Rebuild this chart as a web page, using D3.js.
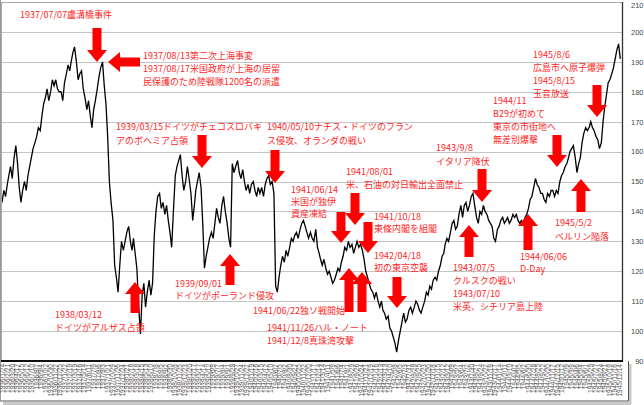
<!DOCTYPE html>
<html>
<head>
<meta charset="utf-8">
<script src="https://cdn.jsdelivr.net/npm/d3@7"></script>
<style>
body{margin:0;background:#fff;}
svg{display:block;font-family:"Noto Sans CJK JP","Noto Sans",sans-serif;}
</style>
</head>
<body>
<div id="chart"></div>
<script>
// index values, 3 readings a month (1st, 11th, 21st)
var v1936 = [144,145,143,147,145,149,152,155,151,158,162,156,148,143,147,150,147,152,155,158,161,163,165,168,167,172,176,178,181,177,180,184,182,184,181,180];
var v1937 = [180,177,183,186,189,187,190,193,195,190,184,186,187,181,178,174,177,172,168,174,177,181,185,188,190,182,176,165,150,143,137,122,118,113,122,130];
var v1938 = [127,130,133,135,130,127,131,126,121,108,99,112,116,108,113,117,112,116,132,140,145,146,141,143,139,142,137,133,128,140,152,155,157,159,152,147];
var v1939 = [150,155,151,146,137,142,147,150,153,148,136,121,125,128,131,133,131,136,141,138,136,142,145,140,136,131,128,156,153,155,157,153,151,154,150,147];
var v1940 = [149,146,149,150,147,145,148,146,148,145,149,151,152,149,150,146,115,113,118,122,125,123,127,125,128,131,130,132,133,131,134,136,137,135,133,131];
var v1941 = [133,131,130,134,128,126,124,122,124,121,119,120,118,116,117,119,121,120,123,125,128,127,130,128,129,126,128,130,128,129,127,124,120,118,116,114];
var v1942 = [113,111,113,110,108,110,107,106,104,105,101,100,98,96,93,97,100,103,106,103,104,107,108,106,108,110,109,107,106,108,110,113,112,115,114,117];
var v1943 = [118,117,120,122,125,126,129,131,130,133,136,137,134,135,139,142,138,142,143,140,142,145,146,142,138,136,140,139,142,140,139,137,136,135,131,130];
var v1944 = [134,135,137,138,136,137,138,136,137,139,138,139,137,136,137,136,138,139,141,144,145,148,151,149,148,146,146,144,143,146,145,147,147,145,147,146];
var v1945 = [150,152,153,155,156,158,160,161,162,158,153,156,158,163,166,168,167,168,170,168,167,165,164,161,163,170,175,179,183,184,186,188,191,194,196,191];

var years = [1936,1937,1938,1939,1940,1941,1942,1943,1944,1945];
var yearValues = [v1936,v1937,v1938,v1939,v1940,v1941,v1942,v1943,v1944,v1945];
var slotDays = [1,11,21];

var yTicks = [90,100,110,120,130,140,150,160,170,180,190,200,210];

var notes = [
  ["1937/07/07盧溝橋事件"],
  ["1937/08/13第二次上海事変","1937/08/17米国政府が上海の居留","民保護のため陸戦隊1200名の派遣"],
  ["1939/03/15ドイツがチェコスロバキ","アのボヘミア占領"],
  ["1940/05/10ナチス・ドイツのフラン","ス侵攻、オランダの戦い"],
  ["1941/06/14","米国が独伊","資産凍結"],
  ["1941/08/01","米、石油の対日輸出全面禁止"],
  ["1941/10/18","東條内閣を組閣"],
  ["1942/04/18","初の東京空襲"],
  ["1941/06/22独ソ戦開始"],
  ["1941/11/26ハル・ノート"],
  ["1941/12/8真珠湾攻撃"],
  ["1938/03/12","ドイツがアルザス占領"],
  ["1939/09/01","ドイツがポーランド侵攻"],
  ["1943/9/8","イタリア降伏"],
  ["1943/07/5","クルスクの戦い","1943/07/10","米英、シチリア島上陸"],
  ["1944/06/06","D-Day"],
  ["1945/5/2","ベルリン陥落"],
  ["1944/11","B29が初めて","東京の市街地へ","無差別爆撃"],
  ["1945/8/6","広島市へ原子爆弾","1945/8/15","玉音放送"]
];
// x, y of first line, line step
var notePos = [
  [20,15,13],[143,56,12.8],[116,127,14],[267,127,14],[291,190,12],[346,172,12.5],
  [374,217,12],[374,256,11.5],[253,311,13],[267,328,13],[267,341,13],[55,315,13],
  [175,284,12],[436,148,14],[453,268,13],[520,257,12],[555,223,14],[493,101,13],[533,55,13]
];
// tailX, tailY, tipX, tipY
var arrows = [
  [97,28,97,62],[140,62,108,62],[202,135,202,168],[275,150,275,183],
  [341,212,341,243],[355,193,355,225],[368,222,368,253],[397,277,397,308],
  [349,312,349,268],[362,312,362,272],[135,313,135,282],[230,285,230,254],
  [482,169,482,202],[469,257,469,225],[528,250,528,214],[581,212,581,179],
  [557,135,557,167],[597,85,597,117]
];

var data = [];
years.forEach(function(yr, i){
  yearValues[i].forEach(function(v, k){
    data.push({date: new Date(yr, Math.floor(k/3), slotDays[k%3]), value: v});
  });
});

var width = 644, height = 405;
var svg = d3.select("#chart").append("svg")
  .attr("width", width).attr("height", height);

var x = d3.scaleTime()
  .domain([new Date(1936,0,21), new Date(1945,11,31)])
  .range([2, 622]);
var y = d3.scaleLinear().domain([90,210]).range([361, 2]);

// frame + shadow
svg.append("rect").attr("x",3).attr("y",402).attr("width",628).attr("height",3).attr("fill","#c8c8c8");
svg.append("rect").attr("x",629).attr("y",364).attr("width",2.5).attr("height",40).attr("fill","#c8c8c8");
svg.append("line").attr("x1",0).attr("x2",628.5).attr("y1",401).attr("y2",401).attr("stroke","#555");
svg.append("line").attr("x1",628.5).attr("x2",628.5).attr("y1",361).attr("y2",401).attr("stroke","#555");
svg.append("line").attr("x1",0.5).attr("x2",0.5).attr("y1",0).attr("y2",401).attr("stroke","#999");

// grid
svg.append("g").selectAll("line")
  .data(yTicks.filter(function(d){ return d > 90; }))
  .enter().append("line")
  .attr("x1", 2).attr("x2", 622)
  .attr("y1", function(d){ return Math.round(y(d)) + 0.5; })
  .attr("y2", function(d){ return Math.round(y(d)) + 0.5; })
  .attr("stroke", function(d){ return d == 210 ? "#aaa" : "#c4c4c4"; })
  .attr("stroke-width", 1);
svg.append("line").attr("x1",1.5).attr("x2",1.5).attr("y1",2).attr("y2",361).attr("stroke","#aaa");
svg.append("line").attr("x1",622.5).attr("x2",622.5).attr("y1",2).attr("y2",361).attr("stroke","#333").attr("stroke-width",1.3);

// y axis labels
var yAxis = svg.append("g")
  .attr("transform","translate(622,0)")
  .call(d3.axisRight(y).tickValues(yTicks).tickSize(0));
yAxis.select(".domain").remove();
yAxis.selectAll("text")
  .attr("x", 21.5).attr("text-anchor","end")
  .attr("y", function(d){ return d == 210 ? 3 : 0; })
  .style("font-size","7.5px").attr("fill","#444")
  .style("font-family","Arial, 'Liberation Sans', sans-serif");

// x axis labels every 4 weeks
var start = new Date(1936,0,24);
var tickDates = d3.range(0, 130).map(function(i){ return d3.timeDay.offset(start, 28*i); })
  .filter(function(d){ return d <= new Date(1945,11,31); });
var fmt = d3.timeFormat("%Y/%-m/%-d");
var xAxis = svg.append("g")
  .attr("transform","translate(0,362)")
  .call(d3.axisBottom(x).tickValues(tickDates).tickFormat(fmt).tickSize(0).tickPadding(0));
xAxis.select(".domain").remove();
xAxis.selectAll("text")
  .attr("transform","rotate(-90)")
  .attr("text-anchor","end")
  .attr("x",-2).attr("y",0).attr("dy","0.32em")
  .style("font-size","6.5px").attr("fill","#555")
  .style("font-family","Arial, 'Liberation Sans', sans-serif");

// axis line
svg.append("line").attr("x1",1).attr("x2",623).attr("y1",361).attr("y2",361)
  .attr("stroke","#111").attr("stroke-width",2.2);

// price line
svg.append("clipPath").attr("id","clip")
  .append("rect").attr("x",2).attr("y",0).attr("width",620).attr("height",361);
var line = d3.line()
  .x(function(d){ return x(d.date); })
  .y(function(d){ return y(d.value); });
svg.append("path")
  .datum(data)
  .attr("clip-path","url(#clip)")
  .attr("fill","none")
  .attr("stroke","#000")
  .attr("stroke-width",1.3)
  .attr("stroke-linejoin","miter")
  .attr("d", line);

// arrows
function arrowPts(len){
  var hw = 4.5, hh = 10, hl = 12;
  return [[0,-hw],[len-hl,-hw],[len-hl,-hh],[len,0],[len-hl,hh],[len-hl,hw],[0,hw]];
}
svg.append("g").selectAll("polygon")
  .data(arrows)
  .enter().append("polygon")
  .attr("points", function(a){
    var len = Math.hypot(a[2]-a[0], a[3]-a[1]);
    return arrowPts(len).map(function(p){ return p.join(","); }).join(" ");
  })
  .attr("transform", function(a){
    var ang = Math.atan2(a[3]-a[1], a[2]-a[0]) * 180 / Math.PI;
    return "translate(" + a[0] + "," + a[1] + ") rotate(" + ang + ")";
  })
  .attr("fill","#ff0000");

// notes
var ng = svg.append("g");
notes.forEach(function(lines, i){
  var p = notePos[i];
  ng.append("text")
    .attr("x", p[0]).attr("y", p[1])
    .attr("fill","#ff2626")
    .style("font-size","9px")
    .selectAll("tspan")
    .data(lines)
    .enter().append("tspan")
    .attr("x", p[0])
    .attr("y", function(d, j){ return p[1] + j*p[2]; })
    .attr("dy","0.35em")
    .text(function(d){ return d; });
});
</script>
</body>
</html>
